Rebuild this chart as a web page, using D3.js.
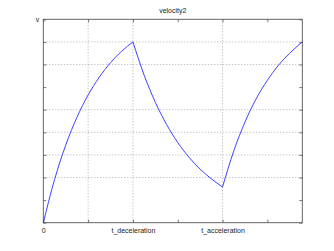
<!DOCTYPE html>
<html><head><meta charset="utf-8">
<script src="https://cdn.jsdelivr.net/npm/d3@7"></script>
<style>html,body{margin:0;padding:0;background:#fff;}svg{display:block;}</style>
</head><body>
<script>
// Data
const seg1T = [0, 0.25, 0.5, 0.75, 1, 1.25, 1.5, 1.75, 2];
const seg1V = [0, 1.90, 3.43, 4.66, 5.65, 6.44, 7.08, 7.59, 8.0];
const seg2T = [2, 2.25, 2.5, 2.75, 3, 3.25, 3.5, 3.75, 4];
const seg2V = [8.0, 6.53, 5.33, 4.35, 3.55, 2.90, 2.37, 1.94, 1.58];
const seg3T = [4, 4.25, 4.5, 4.75, 5, 5.25, 5.5, 5.78];
const seg3V = [1.58, 3.17, 4.45, 5.48, 6.30, 6.97, 7.50, 8.0];
const xTicks = [0, 1, 2, 3, 4, 5];
const xTickLabels = ["0", "", "t_deceleration", "", "t_acceleration", ""];
const xGrid = [1, 2, 4];
const yTicks = [0, 1, 2, 3, 4, 5, 6, 7, 8, 9];
const yTickLabels = ["", "", "", "", "", "", "", "", "", "v"];
const yGrid = [2, 3, 4, 5, 7, 8];
const title = "velocity2";
const xMax = 5.78, yMax = 9;

const W = 334, H = 251;
const L = 43.3, R = 302.3, T = 19.3, B = 222.7;
const svg = d3.select("body").append("svg").attr("width", W).attr("height", H);
const x = d3.scaleLinear().domain([0, xMax]).range([L, R]);
const y = d3.scaleLinear().domain([0, yMax]).range([B, T]);
const font = "'Liberation Sans', Arial, sans-serif";
const axisCol = "#555";

// grid
svg.append("g").selectAll("line").data(xGrid).join("line")
  .attr("x1", d => x(d)).attr("x2", d => x(d)).attr("y1", T).attr("y2", B)
  .attr("stroke", "#9a9a9a").attr("stroke-width", 0.8).attr("stroke-dasharray", "1,2");
svg.append("g").selectAll("line").data(yGrid).join("line")
  .attr("y1", d => y(d)).attr("y2", d => y(d)).attr("x1", L).attr("x2", R)
  .attr("stroke", "#9a9a9a").attr("stroke-width", 0.8).attr("stroke-dasharray", "1,2");

// axes via d3 axis generators (ticks inward)
const fmtX = (d, i) => xTickLabels[xTicks.indexOf(d)] || "";
const fmtY = (d) => yTickLabels[yTicks.indexOf(d)] || "";
function styleAxis(g) {
  g.select(".domain").remove();
  g.selectAll("line").attr("stroke", axisCol).attr("stroke-width", 0.8);
  g.selectAll("text").attr("font-family", font).attr("font-size", 7).attr("fill", "#222");
}
svg.append("g").attr("transform", `translate(0,${B})`)
  .call(d3.axisBottom(x).tickValues(xTicks).tickFormat(fmtX).tickSizeInner(-3).tickSizeOuter(0).tickPadding(5))
  .call(styleAxis);
svg.append("g").attr("transform", `translate(0,${T})`)
  .call(d3.axisTop(x).tickValues(xTicks).tickFormat("").tickSizeInner(-3).tickSizeOuter(0))
  .call(styleAxis);
svg.append("g").attr("transform", `translate(${L},0)`)
  .call(d3.axisLeft(y).tickValues(yTicks).tickFormat(fmtY).tickSizeInner(-3).tickSizeOuter(0).tickPadding(4))
  .call(styleAxis);
svg.append("g").attr("transform", `translate(${R},0)`)
  .call(d3.axisRight(y).tickValues(yTicks).tickFormat("").tickSizeInner(-3).tickSizeOuter(0))
  .call(styleAxis);

// frame
svg.append("rect").attr("x", L).attr("y", T).attr("width", R - L).attr("height", B - T)
  .attr("fill", "none").attr("stroke", axisCol).attr("stroke-width", 0.9);

// curve
const line = d3.line().x(d => x(d[0])).y(d => y(d[1])).curve(d3.curveMonotoneX);
const segs = [[seg1T, seg1V], [seg2T, seg2V], [seg3T, seg3V]].map(([t, v]) => t.map((tt, i) => [tt, v[i]]));
svg.append("path").attr("d", segs.map(s => line(s)).join(""))
  .attr("fill", "none").attr("stroke", "#2b2bff").attr("stroke-width", 0.9);

// title
svg.append("text").attr("x", (L + R) / 2).attr("y", 13).attr("text-anchor", "middle")
  .attr("font-family", font).attr("font-size", 7).attr("fill", "#222").text(title);
</script>
</body></html>
